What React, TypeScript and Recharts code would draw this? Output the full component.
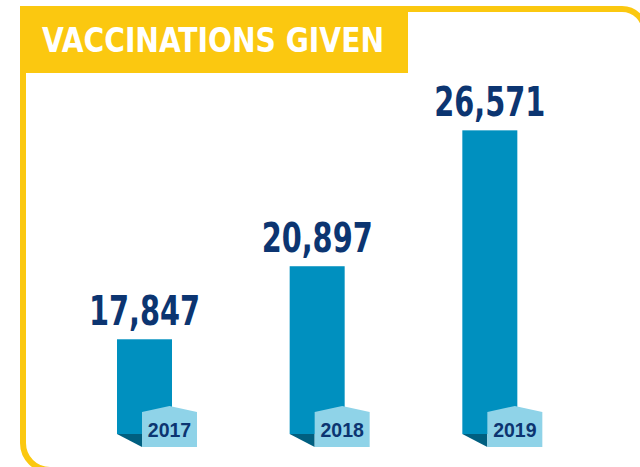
import React from 'react';
import { BarChart, Bar, XAxis, YAxis, LabelList } from 'recharts';

const years = ['2017', '2018', '2019'];
const vaccinations = [17847, 20897, 26571];
const title = 'VACCINATIONS GIVEN';

const data = years.map((year, i) => ({ year, value: vaccinations[i] }));

const YELLOW = '#fbc810';
const TEAL = '#0090bf';
const SHADOW = '#005f80';
const TAB = '#8fd3e8';
const NAVY = '#0c3571';

const BarShape = (props: any) => {
  const { x, y, width, height, payload } = props;
  const base = y + height;
  const tx = x + 25;
  const tw = width;
  return (
    <g>
      <rect x={x} y={y} width={width} height={height} fill={TEAL} />
      <polygon points={`${x},${base} ${tx},${base} ${tx},${base + 13}`} fill={SHADOW} />
      <polygon
        points={`${tx},${base - 22} ${tx + tw / 2},${base - 28} ${tx + tw},${base - 22} ${tx + tw},${base + 13} ${tx},${base + 13}`}
        fill={TAB}
      />
      <text
        x={tx + tw / 2}
        y={base + 3}
        textAnchor="middle"
        fill={NAVY}
        fontFamily="'Liberation Sans', Arial, sans-serif"
        fontWeight="bold"
        fontSize={19.5}
      >
        {payload.year}
      </text>
    </g>
  );
};

const ValueLabel = (props: any) => {
  const { x, y, width, value } = props;
  return (
    <text
      x={x + width / 2}
      y={y - 14}
      textAnchor="middle"
      fill={NAVY}
      fontFamily="'Liberation Sans Narrow', 'DejaVu Sans Condensed', Arial, sans-serif"
      fontWeight="bold"
      fontSize={41}
      textLength={111}
      lengthAdjust="spacingAndGlyphs"
    >
      {Number(value).toLocaleString('en-US')}
    </text>
  );
};

export default function App() {
  return (
    <div style={{ position: 'absolute', left: 0, top: 0, width: 640, height: 467, overflow: 'hidden', background: '#fff' }}>
      <svg width={640} height={467} style={{ position: 'absolute', left: 0, top: 0 }}>
        <path
          d="M 23 9 L 622 9 A 23 23 0 0 1 645 32 L 645 520"
          fill="none"
          stroke={YELLOW}
          strokeWidth={6}
        />
        <path
          d="M 23 6 L 23 443 A 27 27 0 0 0 50 470 L 700 470"
          fill="none"
          stroke={YELLOW}
          strokeWidth={6}
        />
        <rect x={20} y={6} width={388} height={67} fill={YELLOW} />
        <text
          x={42}
          y={52}
          fill="#ffffff"
          fontFamily="'Liberation Sans Narrow', 'DejaVu Sans Condensed', Arial, sans-serif"
          fontWeight="bold"
          fontSize={33}
          textLength={342}
          lengthAdjust="spacingAndGlyphs"
        >
          {title}
        </text>
      </svg>
      <div style={{ position: 'absolute', left: 0, top: 0 }}>
        <BarChart
          width={640}
          height={467}
          data={data}
          margin={{ top: 100, right: 64, bottom: 33, left: 58 }}
          barCategoryGap={0}
        >
          <XAxis dataKey="year" hide />
          <YAxis hide domain={[13892, 27838]} />
          <Bar dataKey="value" barSize={55} shape={BarShape} isAnimationActive={false}>
            <LabelList dataKey="value" content={ValueLabel} />
          </Bar>
        </BarChart>
      </div>
    </div>
  );
}
